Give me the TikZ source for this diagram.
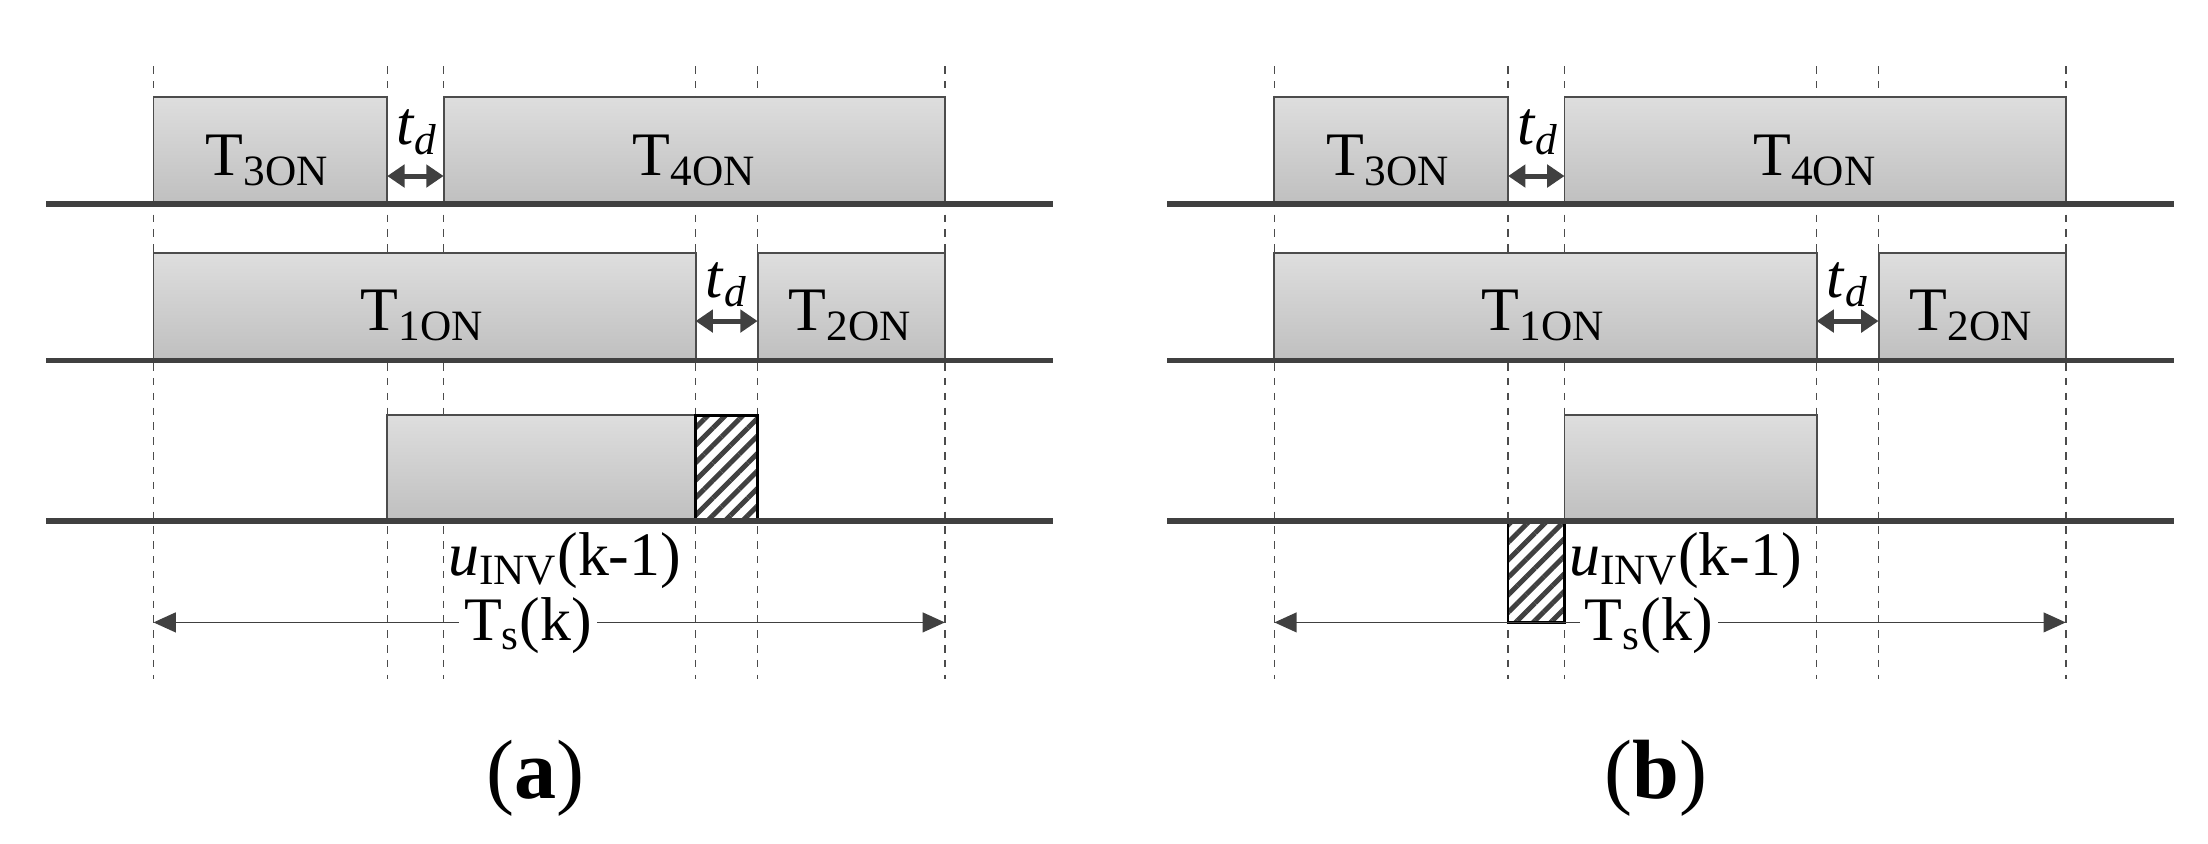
\documentclass[tikz,border=0pt]{standalone}
\usepackage{fontspec}
\setmainfont{Liberation Serif}
\usetikzlibrary{arrows.meta,patterns.meta}

\begin{document}
\begin{tikzpicture}[x=0.02cm,y=-0.02cm]
  \tikzset{
    base/.style={line width=2.3pt, draw=black!75},
    pulse/.style={draw=black!70, line width=0.8pt, top color=black!13, bottom color=black!25},
    hatch/.style={draw=black, line width=1pt, pattern={Lines[angle=45,distance=5pt,line width=2pt]}, pattern color=black!75},
    guide/.style={dashed, draw=black!70, line width=0.6pt},
    lbl/.style={font=\fontsize{25}{30}\selectfont, inner sep=0pt},
    gap/.style={{Triangle[length=7pt,width=9pt]}-{Triangle[length=7pt,width=9pt]}, line width=2pt, draw=black!75},
    span/.style={{Triangle[length=9pt,width=8pt]}-{Triangle[length=9pt,width=8pt]}, line width=0.7pt, draw=black!75}
  }
  \useasboundingbox (0,0) rectangle (1568,599);

  \foreach \dx/\tag/\hatched in {0/a/0,796/b/1} {
    \begin{scope}[xshift=\dx*0.02cm]
      % guide lines
      \foreach \gx in {109,275,315,494,538,671}
        \draw[guide] (\gx,47) -- (\gx,482);
      % switching pulses
      \draw[pulse] (109,145) rectangle (275,69);
      \draw[pulse] (315,145) rectangle (671,69);
      \draw[pulse] (109,256) rectangle (494,180);
      \draw[pulse] (538,256) rectangle (671,180);
      \ifnum\hatched=0
        \draw[pulse] (275,370) rectangle (494,295);
        \draw[hatch] (494,370) rectangle (538,295);
      \else
        \draw[pulse] (315,370) rectangle (494,295);
        \draw[hatch] (275,442) rectangle (315,370);
      \fi
      % base lines
      \foreach \by in {145,256,370}
        \draw[base] (33,\by) -- (748,\by);
      \node[lbl] (t3\tag) at (190,114) {T\textsubscript{3ON}};
      \node[lbl] (t4\tag) at (493,114) {T\textsubscript{4ON}};
      \node[lbl] (t1\tag) at (300,224) {T\textsubscript{1ON}};
      \node[lbl] (t2\tag) at (604,224) {T\textsubscript{2ON}};
      \node[lbl] (u\tag) at (401,398) {\textit{u}\textsubscript{INV}(k-1)};
      % dead times
      \coordinate (d1l\tag) at (275,125);
      \coordinate (d1r\tag) at (315,125);
      \coordinate (d2l\tag) at (494,228);
      \coordinate (d2r\tag) at (538,228);
      \draw[gap] (d1l\tag) -- (d1r\tag);
      \draw[gap] (d2l\tag) -- (d2r\tag);
      \node[lbl] (td1\tag) at (296,94) {\textit{t}\textsubscript{\textit{d}}};
      \node[lbl] (td2\tag) at (516,202) {\textit{t}\textsubscript{\textit{d}}};
      % sampling period
      \coordinate (sl\tag) at (109,442);
      \coordinate (sr\tag) at (671,442);
      \draw[span] (sl\tag) -- (sr\tag);
      \node[lbl, fill=white, inner xsep=2pt] (ts\tag) at (375,444) {T\textsubscript{s}(k)};
      \node[font=\fontsize{34}{40}\selectfont] (cap\tag) at (380,553) {(\textbf{\tag})};
    \end{scope}
  }
\end{tikzpicture}
\end{document}
